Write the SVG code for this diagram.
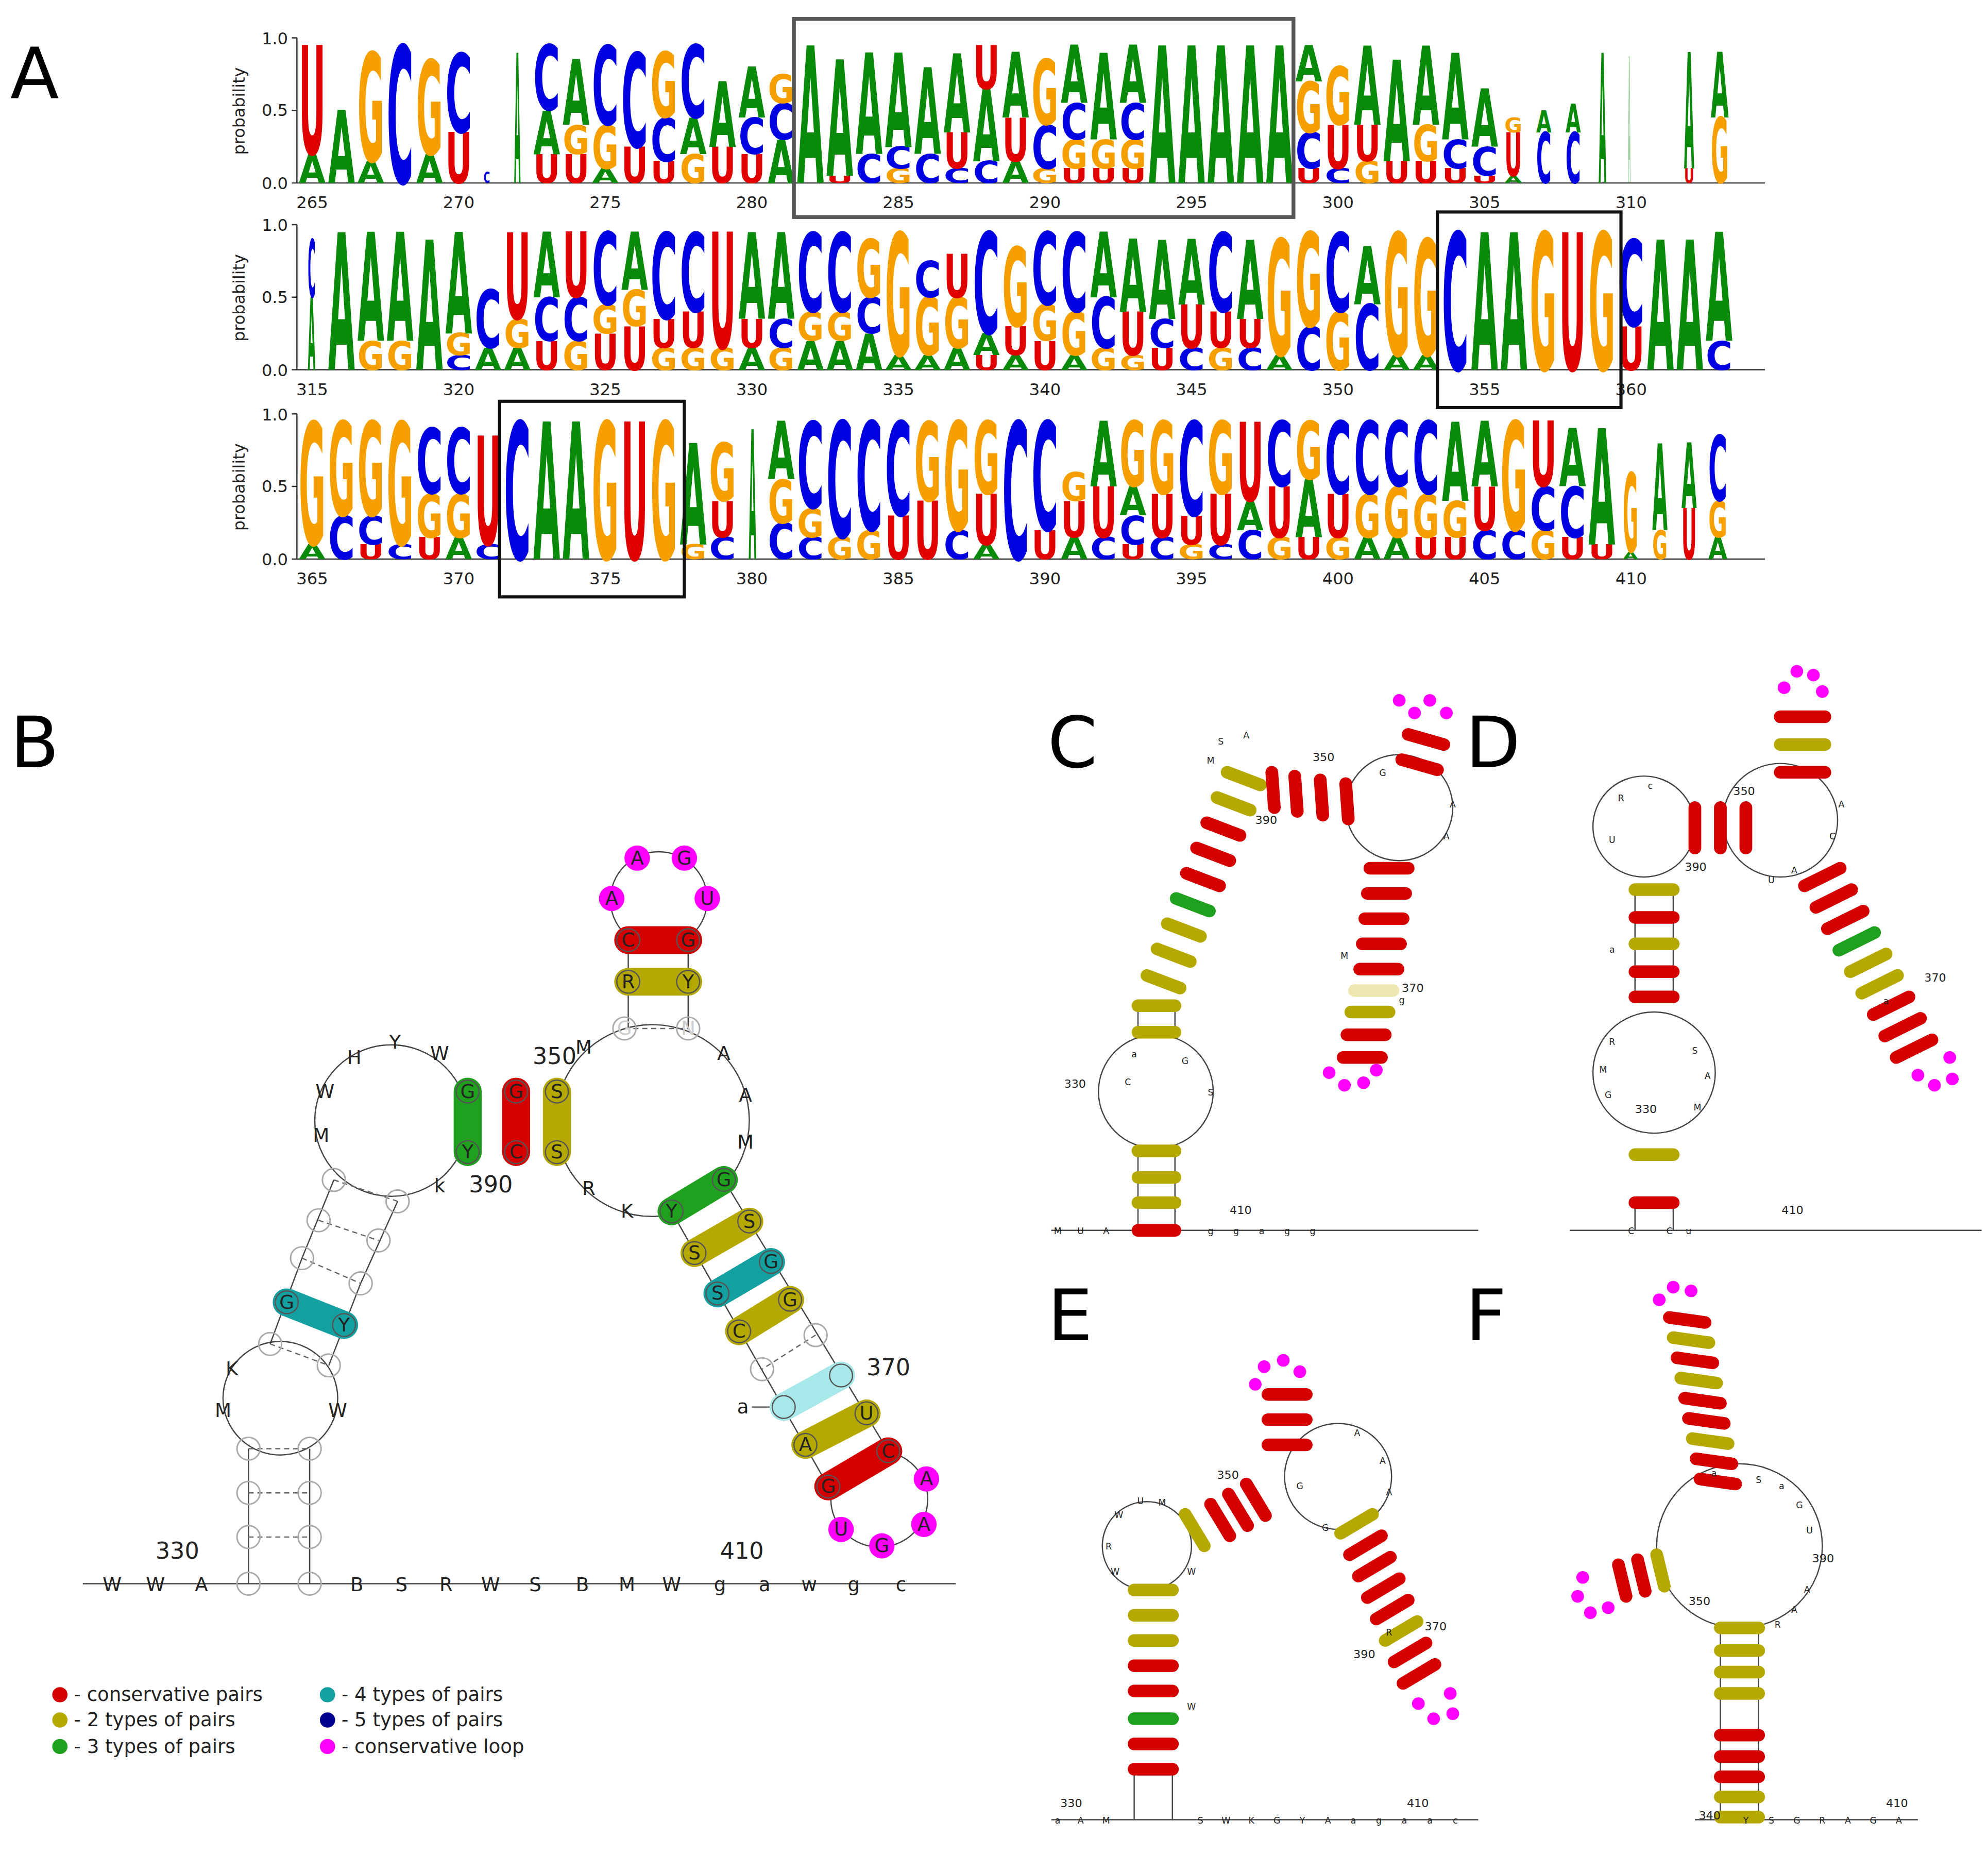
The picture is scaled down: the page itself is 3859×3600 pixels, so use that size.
<svg xmlns="http://www.w3.org/2000/svg" width="3859" height="3600" viewBox="0 0 3859 3600">
<style>
text{font-family:"DejaVu Sans","Liberation Sans",sans-serif}
.L text{font-weight:bold}
.a{fill:#0a8a0a}.c{fill:#0000e0}.g{fill:#f5a000}.u{fill:#e00000}
.ax{font-size:13px;fill:#222}
.pl{font-size:56px}
.bb{stroke:#444;stroke-width:1;fill:none}
.br{stroke-linecap:round;fill:none}
.R{stroke:#d40000}.O{stroke:#b5a800}.G{stroke:#1fa01f}.T{stroke:#14a0a0}.LT{stroke:#a8e8e8}.PY{stroke:#eee8b0}
.bw{stroke-width:22}.sw{stroke-width:10}
.nc{fill:none;stroke:#555;stroke-width:1}
.gc{fill:none;stroke:#aaa;stroke-width:1.2}
.nt{font-size:15px;text-anchor:middle;fill:#222}
.ft{font-size:7px;text-anchor:middle;fill:#222}
.mg{fill:#ff00ff}
.lg{font-size:15px;fill:#222}
.dash{stroke:#666;stroke-width:1;stroke-dasharray:4 3}
</style>
<rect width="3859" height="3600" fill="#fff"/>
<g transform="scale(2.4737,2.449)">
<text class="pl" x="8" y="78">A</text>
<text class="pl" x="8" y="608">B</text>
<text class="pl" x="822" y="608">C</text>
<text class="pl" x="1150" y="608">D</text>
<text class="pl" x="822" y="1062">E</text>
<text class="pl" x="1150" y="1062">F</text>

<!-- logo axes -->
<g id="axes" fill="none" stroke="#333" stroke-width="1">
<path d="M233,30V145H1385M233,30h-4M233,87.5h-4M233,145h-4"/>
<path d="M233,178V293H1385M233,178h-4M233,235.5h-4M233,293h-4"/>
<path d="M233,328V443H1385M233,328h-4M233,385.5h-4M233,443h-4"/>
</g>
<g class="ax" text-anchor="end">
<text x="226" y="35">1.0</text><text x="226" y="92">0.5</text><text x="226" y="150">0.0</text>
<text x="226" y="183">1.0</text><text x="226" y="240">0.5</text><text x="226" y="298">0.0</text>
<text x="226" y="333">1.0</text><text x="226" y="390">0.5</text><text x="226" y="448">0.0</text>
</g>
<g class="ax" text-anchor="middle" font-size="15">
<text transform="translate(192,88) rotate(-90)">probability</text>
<text transform="translate(192,236) rotate(-90)">probability</text>
<text transform="translate(192,386) rotate(-90)">probability</text>
<text x="245" y="165">265</text><text x="360" y="165">270</text><text x="475" y="165">275</text><text x="590" y="165">280</text><text x="705" y="165">285</text><text x="820" y="165">290</text><text x="935" y="165">295</text><text x="1050" y="165">300</text><text x="1165" y="165">305</text><text x="1280" y="165">310</text>
<text x="245" y="313">315</text><text x="360" y="313">320</text><text x="475" y="313">325</text><text x="590" y="313">330</text><text x="705" y="313">335</text><text x="820" y="313">340</text><text x="935" y="313">345</text><text x="1050" y="313">350</text><text x="1165" y="313">355</text><text x="1280" y="313">360</text>
<text x="245" y="463">365</text><text x="360" y="463">370</text><text x="475" y="463">375</text><text x="590" y="463">380</text><text x="705" y="463">385</text><text x="820" y="463">390</text><text x="935" y="463">395</text><text x="1050" y="463">400</text><text x="1165" y="463">405</text><text x="1280" y="463">410</text>
</g>

<!-- logo row 1 -->
<g class="L" transform="translate(233.5,145) scale(1,1.15)" lengthAdjust="spacingAndGlyphs">
<text class="a" x="1" y="0" font-size="27" textLength="21" lengthAdjust="spacingAndGlyphs">A</text><text class="u" x="1" y="-20" font-size="103" textLength="21" lengthAdjust="spacingAndGlyphs">U</text>
<text class="a" x="24" y="0" font-size="69" textLength="21" lengthAdjust="spacingAndGlyphs">A</text>
<text class="a" x="47" y="0" font-size="21" textLength="21" lengthAdjust="spacingAndGlyphs">A</text><text class="g" x="47" y="-15" font-size="103" textLength="21" lengthAdjust="spacingAndGlyphs">G</text>
<text class="c" x="70" y="0" font-size="130" textLength="21" lengthAdjust="spacingAndGlyphs">C</text>
<text class="a" x="93" y="0" font-size="27" textLength="21" lengthAdjust="spacingAndGlyphs">A</text><text class="g" x="93" y="-20" font-size="89" textLength="21" lengthAdjust="spacingAndGlyphs">G</text>
<text class="u" x="116" y="0" font-size="48" textLength="21" lengthAdjust="spacingAndGlyphs">U</text><text class="c" x="116" y="-35" font-size="75" textLength="21" lengthAdjust="spacingAndGlyphs">C</text>
<text class="c" x="146" y="0" font-size="11" textLength="5" lengthAdjust="spacingAndGlyphs">C</text>
<text class="a" x="170" y="0" font-size="123" textLength="5" lengthAdjust="spacingAndGlyphs">A</text>
<text class="u" x="185" y="0" font-size="27" textLength="21" lengthAdjust="spacingAndGlyphs">U</text><text class="a" x="185" y="-20" font-size="41" textLength="21" lengthAdjust="spacingAndGlyphs">A</text><text class="c" x="185" y="-50" font-size="62" textLength="21" lengthAdjust="spacingAndGlyphs">C</text>
<text class="u" x="208" y="0" font-size="27" textLength="21" lengthAdjust="spacingAndGlyphs">U</text><text class="g" x="208" y="-20" font-size="27" textLength="21" lengthAdjust="spacingAndGlyphs">G</text><text class="a" x="208" y="-40" font-size="62" textLength="21" lengthAdjust="spacingAndGlyphs">A</text>
<text class="a" x="231" y="0" font-size="14" textLength="21" lengthAdjust="spacingAndGlyphs">A</text><text class="g" x="231" y="-10" font-size="41" textLength="21" lengthAdjust="spacingAndGlyphs">G</text><text class="c" x="231" y="-40" font-size="75" textLength="21" lengthAdjust="spacingAndGlyphs">C</text>
<text class="u" x="254" y="0" font-size="34" textLength="21" lengthAdjust="spacingAndGlyphs">U</text><text class="c" x="254" y="-25" font-size="89" textLength="21" lengthAdjust="spacingAndGlyphs">C</text>
<text class="u" x="277" y="0" font-size="21" textLength="21" lengthAdjust="spacingAndGlyphs">U</text><text class="c" x="277" y="-15" font-size="41" textLength="21" lengthAdjust="spacingAndGlyphs">C</text><text class="g" x="277" y="-45" font-size="62" textLength="21" lengthAdjust="spacingAndGlyphs">G</text>
<text class="g" x="300" y="0" font-size="27" textLength="21" lengthAdjust="spacingAndGlyphs">G</text><text class="a" x="300" y="-20" font-size="34" textLength="21" lengthAdjust="spacingAndGlyphs">A</text><text class="c" x="300" y="-45" font-size="69" textLength="21" lengthAdjust="spacingAndGlyphs">C</text>
<text class="u" x="323" y="0" font-size="34" textLength="21" lengthAdjust="spacingAndGlyphs">U</text><text class="a" x="323" y="-25" font-size="62" textLength="21" lengthAdjust="spacingAndGlyphs">A</text>
<text class="u" x="346" y="0" font-size="27" textLength="21" lengthAdjust="spacingAndGlyphs">U</text><text class="c" x="346" y="-20" font-size="34" textLength="21" lengthAdjust="spacingAndGlyphs">C</text><text class="a" x="346" y="-45" font-size="48" textLength="21" lengthAdjust="spacingAndGlyphs">A</text>
<text class="a" x="369" y="0" font-size="41" textLength="21" lengthAdjust="spacingAndGlyphs">A</text><text class="c" x="369" y="-30" font-size="34" textLength="21" lengthAdjust="spacingAndGlyphs">C</text><text class="g" x="369" y="-55" font-size="27" textLength="21" lengthAdjust="spacingAndGlyphs">G</text>
<text class="a" x="392" y="0" font-size="130" textLength="21" lengthAdjust="spacingAndGlyphs">A</text>
<text class="u" x="415" y="0" font-size="7" textLength="21" lengthAdjust="spacingAndGlyphs">U</text><text class="a" x="415" y="-5" font-size="110" textLength="21" lengthAdjust="spacingAndGlyphs">A</text>
<text class="c" x="438" y="0" font-size="27" textLength="21" lengthAdjust="spacingAndGlyphs">C</text><text class="a" x="438" y="-20" font-size="96" textLength="21" lengthAdjust="spacingAndGlyphs">A</text>
<text class="g" x="461" y="0" font-size="14" textLength="21" lengthAdjust="spacingAndGlyphs">G</text><text class="c" x="461" y="-10" font-size="21" textLength="21" lengthAdjust="spacingAndGlyphs">C</text><text class="a" x="461" y="-25" font-size="89" textLength="21" lengthAdjust="spacingAndGlyphs">A</text>
<text class="c" x="484" y="0" font-size="27" textLength="21" lengthAdjust="spacingAndGlyphs">C</text><text class="a" x="484" y="-20" font-size="82" textLength="21" lengthAdjust="spacingAndGlyphs">A</text>
<text class="c" x="507" y="0" font-size="14" textLength="21" lengthAdjust="spacingAndGlyphs">C</text><text class="u" x="507" y="-10" font-size="34" textLength="21" lengthAdjust="spacingAndGlyphs">U</text><text class="a" x="507" y="-35" font-size="75" textLength="21" lengthAdjust="spacingAndGlyphs">A</text>
<text class="c" x="530" y="0" font-size="21" textLength="21" lengthAdjust="spacingAndGlyphs">C</text><text class="a" x="530" y="-15" font-size="69" textLength="21" lengthAdjust="spacingAndGlyphs">A</text><text class="u" x="530" y="-65" font-size="41" textLength="21" lengthAdjust="spacingAndGlyphs">U</text>
<text class="a" x="553" y="0" font-size="21" textLength="21" lengthAdjust="spacingAndGlyphs">A</text><text class="u" x="553" y="-15" font-size="41" textLength="21" lengthAdjust="spacingAndGlyphs">U</text><text class="a" x="553" y="-45" font-size="62" textLength="21" lengthAdjust="spacingAndGlyphs">A</text>
<text class="g" x="576" y="0" font-size="14" textLength="21" lengthAdjust="spacingAndGlyphs">G</text><text class="c" x="576" y="-10" font-size="41" textLength="21" lengthAdjust="spacingAndGlyphs">C</text><text class="g" x="576" y="-40" font-size="62" textLength="21" lengthAdjust="spacingAndGlyphs">G</text>
<text class="u" x="599" y="0" font-size="14" textLength="21" lengthAdjust="spacingAndGlyphs">U</text><text class="g" x="599" y="-10" font-size="27" textLength="21" lengthAdjust="spacingAndGlyphs">G</text><text class="c" x="599" y="-30" font-size="34" textLength="21" lengthAdjust="spacingAndGlyphs">C</text><text class="a" x="599" y="-55" font-size="55" textLength="21" lengthAdjust="spacingAndGlyphs">A</text>
<text class="u" x="622" y="0" font-size="14" textLength="21" lengthAdjust="spacingAndGlyphs">U</text><text class="g" x="622" y="-10" font-size="27" textLength="21" lengthAdjust="spacingAndGlyphs">G</text><text class="a" x="622" y="-30" font-size="82" textLength="21" lengthAdjust="spacingAndGlyphs">A</text>
<text class="u" x="645" y="0" font-size="14" textLength="21" lengthAdjust="spacingAndGlyphs">U</text><text class="g" x="645" y="-10" font-size="27" textLength="21" lengthAdjust="spacingAndGlyphs">G</text><text class="c" x="645" y="-30" font-size="34" textLength="21" lengthAdjust="spacingAndGlyphs">C</text><text class="a" x="645" y="-55" font-size="55" textLength="21" lengthAdjust="spacingAndGlyphs">A</text>
<text class="a" x="668" y="0" font-size="130" textLength="21" lengthAdjust="spacingAndGlyphs">A</text>
<text class="a" x="691" y="0" font-size="130" textLength="21" lengthAdjust="spacingAndGlyphs">A</text>
<text class="a" x="714" y="0" font-size="130" textLength="21" lengthAdjust="spacingAndGlyphs">A</text>
<text class="a" x="737" y="0" font-size="130" textLength="21" lengthAdjust="spacingAndGlyphs">A</text>
<text class="a" x="760" y="0" font-size="130" textLength="21" lengthAdjust="spacingAndGlyphs">A</text>
<text class="u" x="783" y="0" font-size="14" textLength="21" lengthAdjust="spacingAndGlyphs">U</text><text class="c" x="783" y="-10" font-size="34" textLength="21" lengthAdjust="spacingAndGlyphs">C</text><text class="g" x="783" y="-35" font-size="48" textLength="21" lengthAdjust="spacingAndGlyphs">G</text><text class="a" x="783" y="-70" font-size="34" textLength="21" lengthAdjust="spacingAndGlyphs">A</text>
<text class="c" x="806" y="0" font-size="14" textLength="21" lengthAdjust="spacingAndGlyphs">C</text><text class="u" x="806" y="-10" font-size="41" textLength="21" lengthAdjust="spacingAndGlyphs">U</text><text class="g" x="806" y="-40" font-size="55" textLength="21" lengthAdjust="spacingAndGlyphs">G</text>
<text class="g" x="829" y="0" font-size="21" textLength="21" lengthAdjust="spacingAndGlyphs">G</text><text class="u" x="829" y="-15" font-size="34" textLength="21" lengthAdjust="spacingAndGlyphs">U</text><text class="a" x="829" y="-40" font-size="75" textLength="21" lengthAdjust="spacingAndGlyphs">A</text>
<text class="u" x="852" y="0" font-size="21" textLength="21" lengthAdjust="spacingAndGlyphs">U</text><text class="a" x="852" y="-15" font-size="96" textLength="21" lengthAdjust="spacingAndGlyphs">A</text>
<text class="u" x="875" y="0" font-size="21" textLength="21" lengthAdjust="spacingAndGlyphs">U</text><text class="g" x="875" y="-15" font-size="34" textLength="21" lengthAdjust="spacingAndGlyphs">G</text><text class="a" x="875" y="-40" font-size="75" textLength="21" lengthAdjust="spacingAndGlyphs">A</text>
<text class="u" x="898" y="0" font-size="14" textLength="21" lengthAdjust="spacingAndGlyphs">U</text><text class="c" x="898" y="-10" font-size="27" textLength="21" lengthAdjust="spacingAndGlyphs">C</text><text class="a" x="898" y="-30" font-size="82" textLength="21" lengthAdjust="spacingAndGlyphs">A</text>
<text class="u" x="921" y="0" font-size="7" textLength="21" lengthAdjust="spacingAndGlyphs">U</text><text class="c" x="921" y="-5" font-size="27" textLength="21" lengthAdjust="spacingAndGlyphs">C</text><text class="a" x="921" y="-25" font-size="55" textLength="21" lengthAdjust="spacingAndGlyphs">A</text>
<text class="a" x="947" y="0" font-size="7" textLength="14" lengthAdjust="spacingAndGlyphs">A</text><text class="u" x="947" y="-5" font-size="41" textLength="14" lengthAdjust="spacingAndGlyphs">U</text><text class="g" x="947" y="-35" font-size="14" textLength="14" lengthAdjust="spacingAndGlyphs">G</text>
<text class="c" x="972" y="0" font-size="48" textLength="12" lengthAdjust="spacingAndGlyphs">C</text><text class="a" x="972" y="-35" font-size="21" textLength="12" lengthAdjust="spacingAndGlyphs">A</text>
<text class="c" x="995" y="0" font-size="48" textLength="12" lengthAdjust="spacingAndGlyphs">C</text><text class="a" x="995" y="-35" font-size="27" textLength="12" lengthAdjust="spacingAndGlyphs">A</text>
<text class="a" x="1021" y="0" font-size="123" textLength="6" lengthAdjust="spacingAndGlyphs">A</text>
<text class="a" x="1044" y="0" font-size="120" textLength="2" lengthAdjust="spacingAndGlyphs" opacity=".4">A</text>
<text class="u" x="1088" y="0" font-size="14" textLength="8" lengthAdjust="spacingAndGlyphs">U</text><text class="a" x="1088" y="-10" font-size="110" textLength="8" lengthAdjust="spacingAndGlyphs">A</text>
<text class="g" x="1109" y="0" font-size="62" textLength="14" lengthAdjust="spacingAndGlyphs">G</text><text class="a" x="1109" y="-45" font-size="62" textLength="14" lengthAdjust="spacingAndGlyphs">A</text>
</g>

<!-- logo row 2 -->
<g class="L" transform="translate(233.5,293) scale(1,1.15)">
<text class="a" x="8" y="0" font-size="69" textLength="6" lengthAdjust="spacingAndGlyphs">A</text><text class="c" x="8" y="-50" font-size="55" textLength="6" lengthAdjust="spacingAndGlyphs">C</text>
<text class="a" x="24" y="0" font-size="130" textLength="21" lengthAdjust="spacingAndGlyphs">A</text>
<text class="g" x="47" y="0" font-size="27" textLength="21" lengthAdjust="spacingAndGlyphs">G</text><text class="a" x="47" y="-20" font-size="103" textLength="21" lengthAdjust="spacingAndGlyphs">A</text>
<text class="g" x="70" y="0" font-size="27" textLength="21" lengthAdjust="spacingAndGlyphs">G</text><text class="a" x="70" y="-20" font-size="103" textLength="21" lengthAdjust="spacingAndGlyphs">A</text>
<text class="a" x="93" y="0" font-size="123" textLength="21" lengthAdjust="spacingAndGlyphs">A</text>
<text class="c" x="116" y="0" font-size="14" textLength="21" lengthAdjust="spacingAndGlyphs">C</text><text class="g" x="116" y="-10" font-size="21" textLength="21" lengthAdjust="spacingAndGlyphs">G</text><text class="a" x="116" y="-25" font-size="96" textLength="21" lengthAdjust="spacingAndGlyphs">A</text>
<text class="a" x="139" y="0" font-size="21" textLength="21" lengthAdjust="spacingAndGlyphs">A</text><text class="c" x="139" y="-15" font-size="55" textLength="21" lengthAdjust="spacingAndGlyphs">C</text>
<text class="a" x="162" y="0" font-size="21" textLength="21" lengthAdjust="spacingAndGlyphs">A</text><text class="g" x="162" y="-15" font-size="27" textLength="21" lengthAdjust="spacingAndGlyphs">G</text><text class="u" x="162" y="-35" font-size="82" textLength="21" lengthAdjust="spacingAndGlyphs">U</text>
<text class="u" x="185" y="0" font-size="27" textLength="21" lengthAdjust="spacingAndGlyphs">U</text><text class="c" x="185" y="-20" font-size="41" textLength="21" lengthAdjust="spacingAndGlyphs">C</text><text class="a" x="185" y="-50" font-size="62" textLength="21" lengthAdjust="spacingAndGlyphs">A</text>
<text class="g" x="208" y="0" font-size="27" textLength="21" lengthAdjust="spacingAndGlyphs">G</text><text class="c" x="208" y="-20" font-size="41" textLength="21" lengthAdjust="spacingAndGlyphs">C</text><text class="u" x="208" y="-50" font-size="62" textLength="21" lengthAdjust="spacingAndGlyphs">U</text>
<text class="u" x="231" y="0" font-size="34" textLength="21" lengthAdjust="spacingAndGlyphs">U</text><text class="g" x="231" y="-25" font-size="27" textLength="21" lengthAdjust="spacingAndGlyphs">G</text><text class="c" x="231" y="-45" font-size="69" textLength="21" lengthAdjust="spacingAndGlyphs">C</text>
<text class="u" x="254" y="0" font-size="41" textLength="21" lengthAdjust="spacingAndGlyphs">U</text><text class="g" x="254" y="-30" font-size="34" textLength="21" lengthAdjust="spacingAndGlyphs">G</text><text class="a" x="254" y="-55" font-size="55" textLength="21" lengthAdjust="spacingAndGlyphs">A</text>
<text class="g" x="277" y="0" font-size="21" textLength="21" lengthAdjust="spacingAndGlyphs">G</text><text class="u" x="277" y="-15" font-size="27" textLength="21" lengthAdjust="spacingAndGlyphs">U</text><text class="c" x="277" y="-35" font-size="82" textLength="21" lengthAdjust="spacingAndGlyphs">C</text>
<text class="g" x="300" y="0" font-size="21" textLength="21" lengthAdjust="spacingAndGlyphs">G</text><text class="u" x="300" y="-15" font-size="34" textLength="21" lengthAdjust="spacingAndGlyphs">U</text><text class="c" x="300" y="-40" font-size="75" textLength="21" lengthAdjust="spacingAndGlyphs">C</text>
<text class="g" x="323" y="0" font-size="21" textLength="21" lengthAdjust="spacingAndGlyphs">G</text><text class="u" x="323" y="-15" font-size="110" textLength="21" lengthAdjust="spacingAndGlyphs">U</text>
<text class="a" x="346" y="0" font-size="21" textLength="21" lengthAdjust="spacingAndGlyphs">A</text><text class="u" x="346" y="-15" font-size="27" textLength="21" lengthAdjust="spacingAndGlyphs">U</text><text class="a" x="346" y="-35" font-size="82" textLength="21" lengthAdjust="spacingAndGlyphs">A</text>
<text class="g" x="369" y="0" font-size="21" textLength="21" lengthAdjust="spacingAndGlyphs">G</text><text class="c" x="369" y="-15" font-size="27" textLength="21" lengthAdjust="spacingAndGlyphs">C</text><text class="a" x="369" y="-35" font-size="82" textLength="21" lengthAdjust="spacingAndGlyphs">A</text>
<text class="a" x="392" y="0" font-size="27" textLength="21" lengthAdjust="spacingAndGlyphs">A</text><text class="g" x="392" y="-20" font-size="27" textLength="21" lengthAdjust="spacingAndGlyphs">G</text><text class="c" x="392" y="-40" font-size="75" textLength="21" lengthAdjust="spacingAndGlyphs">C</text>
<text class="a" x="415" y="0" font-size="27" textLength="21" lengthAdjust="spacingAndGlyphs">A</text><text class="g" x="415" y="-20" font-size="27" textLength="21" lengthAdjust="spacingAndGlyphs">G</text><text class="c" x="415" y="-40" font-size="75" textLength="21" lengthAdjust="spacingAndGlyphs">C</text>
<text class="a" x="438" y="0" font-size="34" textLength="21" lengthAdjust="spacingAndGlyphs">A</text><text class="c" x="438" y="-25" font-size="34" textLength="21" lengthAdjust="spacingAndGlyphs">C</text><text class="g" x="438" y="-50" font-size="55" textLength="21" lengthAdjust="spacingAndGlyphs">G</text>
<text class="a" x="461" y="0" font-size="14" textLength="21" lengthAdjust="spacingAndGlyphs">A</text><text class="g" x="461" y="-10" font-size="116" textLength="21" lengthAdjust="spacingAndGlyphs">G</text>
<text class="a" x="484" y="0" font-size="14" textLength="21" lengthAdjust="spacingAndGlyphs">A</text><text class="g" x="484" y="-10" font-size="55" textLength="21" lengthAdjust="spacingAndGlyphs">G</text><text class="c" x="484" y="-50" font-size="34" textLength="21" lengthAdjust="spacingAndGlyphs">C</text>
<text class="a" x="507" y="0" font-size="21" textLength="21" lengthAdjust="spacingAndGlyphs">A</text><text class="g" x="507" y="-15" font-size="48" textLength="21" lengthAdjust="spacingAndGlyphs">G</text><text class="u" x="507" y="-50" font-size="41" textLength="21" lengthAdjust="spacingAndGlyphs">U</text>
<text class="u" x="530" y="0" font-size="14" textLength="21" lengthAdjust="spacingAndGlyphs">U</text><text class="a" x="530" y="-10" font-size="21" textLength="21" lengthAdjust="spacingAndGlyphs">A</text><text class="c" x="530" y="-25" font-size="96" textLength="21" lengthAdjust="spacingAndGlyphs">C</text>
<text class="a" x="553" y="0" font-size="14" textLength="21" lengthAdjust="spacingAndGlyphs">A</text><text class="u" x="553" y="-10" font-size="27" textLength="21" lengthAdjust="spacingAndGlyphs">U</text><text class="g" x="553" y="-30" font-size="75" textLength="21" lengthAdjust="spacingAndGlyphs">G</text>
<text class="u" x="576" y="0" font-size="27" textLength="21" lengthAdjust="spacingAndGlyphs">U</text><text class="g" x="576" y="-20" font-size="34" textLength="21" lengthAdjust="spacingAndGlyphs">G</text><text class="c" x="576" y="-45" font-size="69" textLength="21" lengthAdjust="spacingAndGlyphs">C</text>
<text class="a" x="599" y="0" font-size="14" textLength="21" lengthAdjust="spacingAndGlyphs">A</text><text class="g" x="599" y="-10" font-size="41" textLength="21" lengthAdjust="spacingAndGlyphs">G</text><text class="c" x="599" y="-40" font-size="75" textLength="21" lengthAdjust="spacingAndGlyphs">C</text>
<text class="g" x="622" y="0" font-size="21" textLength="21" lengthAdjust="spacingAndGlyphs">G</text><text class="c" x="622" y="-15" font-size="48" textLength="21" lengthAdjust="spacingAndGlyphs">C</text><text class="a" x="622" y="-50" font-size="62" textLength="21" lengthAdjust="spacingAndGlyphs">A</text>
<text class="g" x="645" y="0" font-size="14" textLength="21" lengthAdjust="spacingAndGlyphs">G</text><text class="u" x="645" y="-10" font-size="41" textLength="21" lengthAdjust="spacingAndGlyphs">U</text><text class="a" x="645" y="-40" font-size="69" textLength="21" lengthAdjust="spacingAndGlyphs">A</text>
<text class="u" x="668" y="0" font-size="21" textLength="21" lengthAdjust="spacingAndGlyphs">U</text><text class="c" x="668" y="-15" font-size="27" textLength="21" lengthAdjust="spacingAndGlyphs">C</text><text class="a" x="668" y="-35" font-size="75" textLength="21" lengthAdjust="spacingAndGlyphs">A</text>
<text class="c" x="691" y="0" font-size="21" textLength="21" lengthAdjust="spacingAndGlyphs">C</text><text class="u" x="691" y="-15" font-size="41" textLength="21" lengthAdjust="spacingAndGlyphs">U</text><text class="a" x="691" y="-45" font-size="62" textLength="21" lengthAdjust="spacingAndGlyphs">A</text>
<text class="g" x="714" y="0" font-size="21" textLength="21" lengthAdjust="spacingAndGlyphs">G</text><text class="u" x="714" y="-15" font-size="34" textLength="21" lengthAdjust="spacingAndGlyphs">U</text><text class="c" x="714" y="-40" font-size="75" textLength="21" lengthAdjust="spacingAndGlyphs">C</text>
<text class="c" x="737" y="0" font-size="21" textLength="21" lengthAdjust="spacingAndGlyphs">C</text><text class="u" x="737" y="-15" font-size="27" textLength="21" lengthAdjust="spacingAndGlyphs">U</text><text class="a" x="737" y="-35" font-size="75" textLength="21" lengthAdjust="spacingAndGlyphs">A</text>
<text class="a" x="760" y="0" font-size="14" textLength="21" lengthAdjust="spacingAndGlyphs">A</text><text class="g" x="760" y="-10" font-size="110" textLength="21" lengthAdjust="spacingAndGlyphs">G</text>
<text class="c" x="783" y="0" font-size="41" textLength="21" lengthAdjust="spacingAndGlyphs">C</text><text class="g" x="783" y="-30" font-size="89" textLength="21" lengthAdjust="spacingAndGlyphs">G</text>
<text class="g" x="806" y="0" font-size="55" textLength="21" lengthAdjust="spacingAndGlyphs">G</text><text class="c" x="806" y="-40" font-size="75" textLength="21" lengthAdjust="spacingAndGlyphs">C</text>
<text class="c" x="829" y="0" font-size="62" textLength="21" lengthAdjust="spacingAndGlyphs">C</text><text class="a" x="829" y="-45" font-size="55" textLength="21" lengthAdjust="spacingAndGlyphs">A</text>
<text class="a" x="852" y="0" font-size="14" textLength="21" lengthAdjust="spacingAndGlyphs">A</text><text class="g" x="852" y="-10" font-size="116" textLength="21" lengthAdjust="spacingAndGlyphs">G</text>
<text class="a" x="875" y="0" font-size="14" textLength="21" lengthAdjust="spacingAndGlyphs">A</text><text class="g" x="875" y="-10" font-size="110" textLength="21" lengthAdjust="spacingAndGlyphs">G</text>
<text class="c" x="898" y="0" font-size="130" textLength="21" lengthAdjust="spacingAndGlyphs">C</text>
<text class="a" x="921" y="0" font-size="130" textLength="21" lengthAdjust="spacingAndGlyphs">A</text>
<text class="a" x="944" y="0" font-size="130" textLength="21" lengthAdjust="spacingAndGlyphs">A</text>
<text class="g" x="967" y="0" font-size="130" textLength="21" lengthAdjust="spacingAndGlyphs">G</text>
<text class="u" x="990" y="0" font-size="130" textLength="21" lengthAdjust="spacingAndGlyphs">U</text>
<text class="g" x="1013" y="0" font-size="130" textLength="21" lengthAdjust="spacingAndGlyphs">G</text>
<text class="u" x="1036" y="0" font-size="41" textLength="21" lengthAdjust="spacingAndGlyphs">U</text><text class="c" x="1036" y="-30" font-size="82" textLength="21" lengthAdjust="spacingAndGlyphs">C</text>
<text class="a" x="1059" y="0" font-size="123" textLength="21" lengthAdjust="spacingAndGlyphs">A</text>
<text class="a" x="1082" y="0" font-size="123" textLength="21" lengthAdjust="spacingAndGlyphs">A</text>
<text class="c" x="1105" y="0" font-size="27" textLength="21" lengthAdjust="spacingAndGlyphs">C</text><text class="a" x="1105" y="-20" font-size="103" textLength="21" lengthAdjust="spacingAndGlyphs">A</text>
</g>

<!-- logo row 3 -->
<g class="L" transform="translate(233.5,443) scale(1,1.15)">
<text class="a" x="1" y="0" font-size="14" textLength="21" lengthAdjust="spacingAndGlyphs">A</text><text class="g" x="1" y="-10" font-size="116" textLength="21" lengthAdjust="spacingAndGlyphs">G</text>
<text class="c" x="24" y="0" font-size="41" textLength="21" lengthAdjust="spacingAndGlyphs">C</text><text class="g" x="24" y="-30" font-size="89" textLength="21" lengthAdjust="spacingAndGlyphs">G</text>
<text class="u" x="47" y="0" font-size="14" textLength="21" lengthAdjust="spacingAndGlyphs">U</text><text class="c" x="47" y="-10" font-size="27" textLength="21" lengthAdjust="spacingAndGlyphs">C</text><text class="g" x="47" y="-30" font-size="89" textLength="21" lengthAdjust="spacingAndGlyphs">G</text>
<text class="c" x="70" y="0" font-size="14" textLength="21" lengthAdjust="spacingAndGlyphs">C</text><text class="g" x="70" y="-10" font-size="116" textLength="21" lengthAdjust="spacingAndGlyphs">G</text>
<text class="u" x="93" y="0" font-size="21" textLength="21" lengthAdjust="spacingAndGlyphs">U</text><text class="g" x="93" y="-15" font-size="41" textLength="21" lengthAdjust="spacingAndGlyphs">G</text><text class="c" x="93" y="-45" font-size="62" textLength="21" lengthAdjust="spacingAndGlyphs">C</text>
<text class="a" x="116" y="0" font-size="21" textLength="21" lengthAdjust="spacingAndGlyphs">A</text><text class="g" x="116" y="-15" font-size="41" textLength="21" lengthAdjust="spacingAndGlyphs">G</text><text class="c" x="116" y="-45" font-size="62" textLength="21" lengthAdjust="spacingAndGlyphs">C</text>
<text class="c" x="139" y="0" font-size="14" textLength="21" lengthAdjust="spacingAndGlyphs">C</text><text class="u" x="139" y="-10" font-size="103" textLength="21" lengthAdjust="spacingAndGlyphs">U</text>
<text class="c" x="162" y="0" font-size="130" textLength="21" lengthAdjust="spacingAndGlyphs">C</text>
<text class="a" x="185" y="0" font-size="130" textLength="21" lengthAdjust="spacingAndGlyphs">A</text>
<text class="a" x="208" y="0" font-size="130" textLength="21" lengthAdjust="spacingAndGlyphs">A</text>
<text class="g" x="231" y="0" font-size="130" textLength="21" lengthAdjust="spacingAndGlyphs">G</text>
<text class="u" x="254" y="0" font-size="130" textLength="21" lengthAdjust="spacingAndGlyphs">U</text>
<text class="g" x="277" y="0" font-size="130" textLength="21" lengthAdjust="spacingAndGlyphs">G</text>
<text class="g" x="300" y="0" font-size="14" textLength="21" lengthAdjust="spacingAndGlyphs">G</text><text class="a" x="300" y="-10" font-size="96" textLength="21" lengthAdjust="spacingAndGlyphs">A</text>
<text class="c" x="323" y="0" font-size="21" textLength="21" lengthAdjust="spacingAndGlyphs">C</text><text class="u" x="323" y="-15" font-size="34" textLength="21" lengthAdjust="spacingAndGlyphs">U</text><text class="g" x="323" y="-40" font-size="55" textLength="21" lengthAdjust="spacingAndGlyphs">G</text>
<text class="a" x="354" y="0" font-size="123" textLength="6" lengthAdjust="spacingAndGlyphs">A</text>
<text class="c" x="369" y="0" font-size="34" textLength="21" lengthAdjust="spacingAndGlyphs">C</text><text class="g" x="369" y="-25" font-size="41" textLength="21" lengthAdjust="spacingAndGlyphs">G</text><text class="a" x="369" y="-55" font-size="55" textLength="21" lengthAdjust="spacingAndGlyphs">A</text>
<text class="c" x="392" y="0" font-size="21" textLength="21" lengthAdjust="spacingAndGlyphs">C</text><text class="g" x="392" y="-15" font-size="27" textLength="21" lengthAdjust="spacingAndGlyphs">G</text><text class="c" x="392" y="-35" font-size="82" textLength="21" lengthAdjust="spacingAndGlyphs">C</text>
<text class="g" x="415" y="0" font-size="21" textLength="21" lengthAdjust="spacingAndGlyphs">G</text><text class="c" x="415" y="-15" font-size="110" textLength="21" lengthAdjust="spacingAndGlyphs">C</text>
<text class="g" x="438" y="0" font-size="27" textLength="21" lengthAdjust="spacingAndGlyphs">G</text><text class="c" x="438" y="-20" font-size="103" textLength="21" lengthAdjust="spacingAndGlyphs">C</text>
<text class="u" x="461" y="0" font-size="41" textLength="21" lengthAdjust="spacingAndGlyphs">U</text><text class="c" x="461" y="-30" font-size="89" textLength="21" lengthAdjust="spacingAndGlyphs">C</text>
<text class="u" x="484" y="0" font-size="55" textLength="21" lengthAdjust="spacingAndGlyphs">U</text><text class="g" x="484" y="-40" font-size="75" textLength="21" lengthAdjust="spacingAndGlyphs">G</text>
<text class="c" x="507" y="0" font-size="27" textLength="21" lengthAdjust="spacingAndGlyphs">C</text><text class="g" x="507" y="-20" font-size="103" textLength="21" lengthAdjust="spacingAndGlyphs">G</text>
<text class="a" x="530" y="0" font-size="14" textLength="21" lengthAdjust="spacingAndGlyphs">A</text><text class="u" x="530" y="-10" font-size="48" textLength="21" lengthAdjust="spacingAndGlyphs">U</text><text class="g" x="530" y="-45" font-size="69" textLength="21" lengthAdjust="spacingAndGlyphs">G</text>
<text class="c" x="553" y="0" font-size="130" textLength="21" lengthAdjust="spacingAndGlyphs">C</text>
<text class="u" x="576" y="0" font-size="27" textLength="21" lengthAdjust="spacingAndGlyphs">U</text><text class="c" x="576" y="-20" font-size="103" textLength="21" lengthAdjust="spacingAndGlyphs">C</text>
<text class="a" x="599" y="0" font-size="21" textLength="21" lengthAdjust="spacingAndGlyphs">A</text><text class="u" x="599" y="-15" font-size="34" textLength="21" lengthAdjust="spacingAndGlyphs">U</text><text class="g" x="599" y="-40" font-size="27" textLength="21" lengthAdjust="spacingAndGlyphs">G</text>
<text class="c" x="622" y="0" font-size="21" textLength="21" lengthAdjust="spacingAndGlyphs">C</text><text class="u" x="622" y="-15" font-size="48" textLength="21" lengthAdjust="spacingAndGlyphs">U</text><text class="a" x="622" y="-50" font-size="62" textLength="21" lengthAdjust="spacingAndGlyphs">A</text>
<text class="u" x="645" y="0" font-size="14" textLength="21" lengthAdjust="spacingAndGlyphs">U</text><text class="c" x="645" y="-10" font-size="27" textLength="21" lengthAdjust="spacingAndGlyphs">C</text><text class="a" x="645" y="-30" font-size="27" textLength="21" lengthAdjust="spacingAndGlyphs">A</text><text class="g" x="645" y="-50" font-size="62" textLength="21" lengthAdjust="spacingAndGlyphs">G</text>
<text class="c" x="668" y="0" font-size="21" textLength="21" lengthAdjust="spacingAndGlyphs">C</text><text class="u" x="668" y="-15" font-size="41" textLength="21" lengthAdjust="spacingAndGlyphs">U</text><text class="g" x="668" y="-45" font-size="69" textLength="21" lengthAdjust="spacingAndGlyphs">G</text>
<text class="g" x="691" y="0" font-size="14" textLength="21" lengthAdjust="spacingAndGlyphs">G</text><text class="u" x="691" y="-10" font-size="27" textLength="21" lengthAdjust="spacingAndGlyphs">U</text><text class="c" x="691" y="-30" font-size="89" textLength="21" lengthAdjust="spacingAndGlyphs">C</text>
<text class="c" x="714" y="0" font-size="14" textLength="21" lengthAdjust="spacingAndGlyphs">C</text><text class="u" x="714" y="-10" font-size="48" textLength="21" lengthAdjust="spacingAndGlyphs">U</text><text class="g" x="714" y="-45" font-size="69" textLength="21" lengthAdjust="spacingAndGlyphs">G</text>
<text class="c" x="737" y="0" font-size="27" textLength="21" lengthAdjust="spacingAndGlyphs">C</text><text class="a" x="737" y="-20" font-size="27" textLength="21" lengthAdjust="spacingAndGlyphs">A</text><text class="u" x="737" y="-40" font-size="75" textLength="21" lengthAdjust="spacingAndGlyphs">U</text>
<text class="g" x="760" y="0" font-size="21" textLength="21" lengthAdjust="spacingAndGlyphs">G</text><text class="u" x="760" y="-15" font-size="48" textLength="21" lengthAdjust="spacingAndGlyphs">U</text><text class="c" x="760" y="-50" font-size="62" textLength="21" lengthAdjust="spacingAndGlyphs">C</text>
<text class="u" x="783" y="0" font-size="21" textLength="21" lengthAdjust="spacingAndGlyphs">U</text><text class="a" x="783" y="-15" font-size="55" textLength="21" lengthAdjust="spacingAndGlyphs">A</text><text class="g" x="783" y="-55" font-size="55" textLength="21" lengthAdjust="spacingAndGlyphs">G</text>
<text class="g" x="806" y="0" font-size="21" textLength="21" lengthAdjust="spacingAndGlyphs">G</text><text class="u" x="806" y="-15" font-size="41" textLength="21" lengthAdjust="spacingAndGlyphs">U</text><text class="c" x="806" y="-45" font-size="69" textLength="21" lengthAdjust="spacingAndGlyphs">C</text>
<text class="a" x="829" y="0" font-size="21" textLength="21" lengthAdjust="spacingAndGlyphs">A</text><text class="g" x="829" y="-15" font-size="41" textLength="21" lengthAdjust="spacingAndGlyphs">G</text><text class="c" x="829" y="-45" font-size="69" textLength="21" lengthAdjust="spacingAndGlyphs">C</text>
<text class="a" x="852" y="0" font-size="21" textLength="21" lengthAdjust="spacingAndGlyphs">A</text><text class="g" x="852" y="-15" font-size="48" textLength="21" lengthAdjust="spacingAndGlyphs">G</text><text class="c" x="852" y="-50" font-size="62" textLength="21" lengthAdjust="spacingAndGlyphs">C</text>
<text class="u" x="875" y="0" font-size="21" textLength="21" lengthAdjust="spacingAndGlyphs">U</text><text class="g" x="875" y="-15" font-size="41" textLength="21" lengthAdjust="spacingAndGlyphs">G</text><text class="c" x="875" y="-45" font-size="69" textLength="21" lengthAdjust="spacingAndGlyphs">C</text>
<text class="u" x="898" y="0" font-size="21" textLength="21" lengthAdjust="spacingAndGlyphs">U</text><text class="g" x="898" y="-15" font-size="34" textLength="21" lengthAdjust="spacingAndGlyphs">G</text><text class="a" x="898" y="-40" font-size="75" textLength="21" lengthAdjust="spacingAndGlyphs">A</text>
<text class="c" x="921" y="0" font-size="27" textLength="21" lengthAdjust="spacingAndGlyphs">C</text><text class="u" x="921" y="-20" font-size="41" textLength="21" lengthAdjust="spacingAndGlyphs">U</text><text class="a" x="921" y="-50" font-size="62" textLength="21" lengthAdjust="spacingAndGlyphs">A</text>
<text class="c" x="944" y="0" font-size="27" textLength="21" lengthAdjust="spacingAndGlyphs">C</text><text class="g" x="944" y="-20" font-size="103" textLength="21" lengthAdjust="spacingAndGlyphs">G</text>
<text class="g" x="967" y="0" font-size="27" textLength="21" lengthAdjust="spacingAndGlyphs">G</text><text class="c" x="967" y="-20" font-size="41" textLength="21" lengthAdjust="spacingAndGlyphs">C</text><text class="u" x="967" y="-50" font-size="62" textLength="21" lengthAdjust="spacingAndGlyphs">U</text>
<text class="u" x="990" y="0" font-size="21" textLength="21" lengthAdjust="spacingAndGlyphs">U</text><text class="c" x="990" y="-15" font-size="48" textLength="21" lengthAdjust="spacingAndGlyphs">C</text><text class="a" x="990" y="-50" font-size="55" textLength="21" lengthAdjust="spacingAndGlyphs">A</text>
<text class="u" x="1013" y="0" font-size="14" textLength="21" lengthAdjust="spacingAndGlyphs">U</text><text class="a" x="1013" y="-10" font-size="110" textLength="21" lengthAdjust="spacingAndGlyphs">A</text>
<text class="a" x="1040" y="0" font-size="7" textLength="12" lengthAdjust="spacingAndGlyphs">A</text><text class="g" x="1040" y="-5" font-size="75" textLength="12" lengthAdjust="spacingAndGlyphs">G</text>
<text class="g" x="1063" y="0" font-size="27" textLength="12" lengthAdjust="spacingAndGlyphs">G</text><text class="a" x="1063" y="-20" font-size="82" textLength="12" lengthAdjust="spacingAndGlyphs">A</text>
<text class="u" x="1086" y="0" font-size="48" textLength="12" lengthAdjust="spacingAndGlyphs">U</text><text class="a" x="1086" y="-35" font-size="62" textLength="12" lengthAdjust="spacingAndGlyphs">A</text>
<text class="a" x="1107" y="0" font-size="21" textLength="15" lengthAdjust="spacingAndGlyphs">A</text><text class="g" x="1107" y="-15" font-size="34" textLength="15" lengthAdjust="spacingAndGlyphs">G</text><text class="c" x="1107" y="-40" font-size="62" textLength="15" lengthAdjust="spacingAndGlyphs">C</text>
</g>

<!-- highlight boxes -->
<rect x="623" y="15" width="392" height="157" fill="none" stroke="#555" stroke-width="3"/>
<rect x="1128" y="168" width="144" height="155" fill="none" stroke="#111" stroke-width="2.5"/>
<rect x="392" y="318" width="145" height="155" fill="none" stroke="#111" stroke-width="2.5"/>

<!-- ===== Panel B ===== -->
<g id="B-loops" class="bb">
<circle cx="220" cy="1108" r="45"/>
<circle cx="307" cy="888" r="60"/>
<circle cx="512" cy="888" r="76"/>
<circle cx="517" cy="713" r="38"/>
<circle cx="690" cy="1188" r="38"/>
<path d="M65,1255H750M195,1148V1255M243,1148V1255M262,935L237,997L212,1065M312,952L283,1017L258,1082M568,935L697,1150M527,960L650,1178M493,745V815M540,745V815M610,1115H590"/>
</g>
<g id="connectors">
<path class="dash" d="M195,1148H243M195,1183H243M195,1218H243M262,935L312,952M250,967L297,983M237,997L283,1017M212,1065L258,1082M490,815H540M640,1058L598,1085"/>
</g>
<g id="B-bars" class="br bw">
<line class="R" x1="493" y1="745" x2="540" y2="745"/>
<line class="O" x1="493" y1="778" x2="540" y2="778"/>
<line class="G" x1="367" y1="865" x2="367" y2="913"/>
<line class="R" x1="405" y1="865" x2="405" y2="913"/>
<line class="O" x1="437" y1="865" x2="437" y2="913"/>
<line class="G" x1="568" y1="935" x2="527" y2="960"/>
<line class="O" x1="588" y1="968" x2="545" y2="993"/>
<line class="T" x1="605" y1="1000" x2="563" y2="1025"/>
<line class="O" x1="620" y1="1030" x2="580" y2="1055"/>
<line class="LT" x1="660" y1="1090" x2="615" y2="1115"/>
<line class="O" x1="680" y1="1120" x2="632" y2="1145"/>
<line class="R" x1="697" y1="1150" x2="650" y2="1178"/>
<line class="T" x1="225" y1="1032" x2="270" y2="1050"/>
</g>
<g id="B-nodes">
<g class="nc"><circle cx="493" cy="745" r="9"/><circle cx="540" cy="745" r="9"/><circle cx="493" cy="778" r="9"/><circle cx="540" cy="778" r="9"/><circle cx="367" cy="865" r="9"/><circle cx="367" cy="913" r="9"/><circle cx="405" cy="865" r="9"/><circle cx="405" cy="913" r="9"/><circle cx="437" cy="865" r="9"/><circle cx="437" cy="913" r="9"/><circle cx="568" cy="935" r="9"/><circle cx="527" cy="960" r="9"/><circle cx="588" cy="968" r="9"/><circle cx="545" cy="993" r="9"/><circle cx="605" cy="1000" r="9"/><circle cx="563" cy="1025" r="9"/><circle cx="620" cy="1030" r="9"/><circle cx="580" cy="1055" r="9"/><circle cx="680" cy="1120" r="9"/><circle cx="632" cy="1145" r="9"/><circle cx="697" cy="1150" r="9"/><circle cx="650" cy="1178" r="9"/><circle cx="225" cy="1032" r="9"/><circle cx="270" cy="1050" r="9"/><circle cx="660" cy="1090" r="9"/><circle cx="615" cy="1115" r="9"/></g>
<g class="gc"><circle cx="640" cy="1058" r="9"/><circle cx="598" cy="1085" r="9"/><circle cx="262" cy="935" r="9"/><circle cx="312" cy="952" r="9"/><circle cx="250" cy="967" r="9"/><circle cx="297" cy="983" r="9"/><circle cx="237" cy="997" r="9"/><circle cx="283" cy="1017" r="9"/><circle cx="212" cy="1065" r="9"/><circle cx="258" cy="1082" r="9"/><circle cx="195" cy="1148" r="9"/><circle cx="243" cy="1148" r="9"/><circle cx="195" cy="1183" r="9"/><circle cx="243" cy="1183" r="9"/><circle cx="195" cy="1218" r="9"/><circle cx="243" cy="1218" r="9"/><circle cx="195" cy="1255" r="9"/><circle cx="243" cy="1255" r="9"/><circle cx="490" cy="815" r="9"/><circle cx="540" cy="815" r="9"/></g>
<g class="mg"><circle cx="480" cy="712" r="10"/><circle cx="500" cy="680" r="10"/><circle cx="537" cy="680" r="10"/><circle cx="555" cy="712" r="10"/><circle cx="660" cy="1212" r="10"/><circle cx="692" cy="1225" r="10"/><circle cx="725" cy="1208" r="10"/><circle cx="727" cy="1172" r="10"/></g>
<g class="nt">
<text x="493" y="750">C</text><text x="540" y="750">G</text><text x="493" y="783">R</text><text x="540" y="783">Y</text>
<text x="490" y="820" fill="#ccc">G</text><text x="540" y="820" fill="#ccc">N</text>
<text x="367" y="870">G</text><text x="367" y="918">Y</text><text x="405" y="870">G</text><text x="405" y="918">C</text><text x="437" y="870">S</text><text x="437" y="918">S</text>
<text x="568" y="940">G</text><text x="527" y="965">Y</text><text x="588" y="973">S</text><text x="545" y="998">S</text><text x="605" y="1005">G</text><text x="563" y="1030">S</text><text x="620" y="1035">G</text><text x="580" y="1060">C</text>
<text x="680" y="1125">U</text><text x="632" y="1150">A</text><text x="697" y="1155">C</text><text x="650" y="1183">G</text>
<text x="225" y="1037">G</text><text x="270" y="1055">Y</text>
<text x="480" y="717">A</text><text x="500" y="685">A</text><text x="537" y="685">G</text><text x="555" y="717">U</text>
<text x="660" y="1217">U</text><text x="692" y="1230">G</text><text x="725" y="1213">A</text><text x="727" y="1177">A</text>
<text x="182" y="1090">K</text><text x="175" y="1123">M</text><text x="265" y="1123">W</text>
<text x="252" y="905">M</text><text x="255" y="870">W</text><text x="278" y="843">H</text><text x="310" y="831">Y</text><text x="345" y="840">W</text><text x="345" y="945">k</text>
<text x="458" y="835">M</text><text x="568" y="840">A</text><text x="585" y="873">A</text><text x="585" y="910">M</text><text x="462" y="947">R</text><text x="492" y="965">K</text>
<text x="583" y="1120">a</text>
<text x="88" y="1261">W</text><text x="122" y="1261">W</text><text x="158" y="1261">A</text><text x="280" y="1261">B</text><text x="315" y="1261">S</text><text x="350" y="1261">R</text><text x="385" y="1261">W</text><text x="420" y="1261">S</text><text x="457" y="1261">B</text><text x="492" y="1261">M</text><text x="527" y="1261">W</text><text x="565" y="1261">g</text><text x="600" y="1261">a</text><text x="635" y="1261">w</text><text x="670" y="1261">g</text><text x="707" y="1261">c</text>
</g>
<g font-size="18" fill="#222"><text x="122" y="1235">330</text><text x="565" y="1235">410</text><text x="418" y="843">350</text><text x="368" y="945">390</text><text x="680" y="1090">370</text></g>
</g>

<!-- legend -->
<g id="legend" class="lg">
<circle cx="47" cy="1343" r="6" fill="#d40000"/><text x="58" y="1348">- conservative pairs</text>
<circle cx="47" cy="1363" r="6" fill="#b5a800"/><text x="58" y="1368">- 2 types of pairs</text>
<circle cx="47" cy="1384" r="6" fill="#1fa01f"/><text x="58" y="1389">- 3 types of pairs</text>
<circle cx="257" cy="1343" r="6" fill="#14a0a0"/><text x="268" y="1348">- 4 types of pairs</text>
<circle cx="257" cy="1363" r="6" fill="#000090"/><text x="268" y="1368">- 5 types of pairs</text>
<circle cx="257" cy="1384" r="6" fill="#ff00ff"/><text x="268" y="1389">- conservative loop</text>
</g>

<!-- ===== Panel C ===== -->
<g id="C">
<g class="bb"><path d="M825,975H1160"/><circle cx="907" cy="865" r="45"/><circle cx="1098" cy="640" r="42"/><circle cx="918" cy="700" r="5" opacity="0"/><path d="M893,975V912M922,975V912M893,818V797M922,818V797"/></g>
<g class="br sw">
<line class="R" x1="893" y1="975" x2="922" y2="975"/><line class="O" x1="893" y1="953" x2="922" y2="953"/><line class="O" x1="893" y1="933" x2="922" y2="933"/><line class="O" x1="893" y1="912" x2="922" y2="912"/>
<line class="O" x1="893" y1="818" x2="922" y2="818"/><line class="O" x1="893" y1="797" x2="922" y2="797"/>
<line class="O" x1="900" y1="773" x2="926" y2="783"/><line class="O" x1="908" y1="752" x2="934" y2="762"/><line class="O" x1="916" y1="732" x2="942" y2="742"/><line class="G" x1="923" y1="712" x2="949" y2="722"/><line class="R" x1="931" y1="692" x2="957" y2="702"/><line class="R" x1="939" y1="672" x2="965" y2="682"/><line class="R" x1="947" y1="652" x2="973" y2="662"/><line class="O" x1="955" y1="632" x2="981" y2="642"/><line class="O" x1="963" y1="612" x2="989" y2="622"/>
<line class="R" x1="998" y1="612" x2="1000" y2="640"/><line class="R" x1="1016" y1="615" x2="1018" y2="643"/><line class="R" x1="1036" y1="618" x2="1038" y2="646"/><line class="R" x1="1056" y1="621" x2="1058" y2="649"/>
<line class="R" x1="1100" y1="602" x2="1128" y2="610"/><line class="R" x1="1105" y1="582" x2="1133" y2="590"/>
<line class="R" x1="1075" y1="688" x2="1105" y2="688"/><line class="R" x1="1073" y1="708" x2="1103" y2="708"/><line class="R" x1="1071" y1="728" x2="1101" y2="728"/><line class="R" x1="1069" y1="748" x2="1099" y2="748"/><line class="R" x1="1067" y1="768" x2="1097" y2="768"/><line class="PY" x1="1063" y1="785" x2="1093" y2="785"/><line class="O" x1="1060" y1="802" x2="1090" y2="802"/><line class="R" x1="1057" y1="820" x2="1087" y2="820"/><line class="R" x1="1054" y1="838" x2="1084" y2="838"/>
</g>
<g class="mg"><circle cx="1110" cy="565" r="5"/><circle cx="1122" cy="555" r="5"/><circle cx="1135" cy="565" r="5"/><circle cx="1098" cy="555" r="5"/><circle cx="1043" cy="850" r="5"/><circle cx="1055" cy="860" r="5"/><circle cx="1070" cy="858" r="5"/><circle cx="1080" cy="848" r="5"/></g>
<g class="ft"><text x="830" y="978">M</text><text x="848" y="978">U</text><text x="868" y="978">A</text><text x="950" y="978">g</text><text x="970" y="978">g</text><text x="990" y="978">a</text><text x="1010" y="978">g</text><text x="1030" y="978">g</text><text x="950" y="605">M</text><text x="958" y="590">S</text><text x="978" y="585">A</text><text x="1085" y="615">G</text><text x="1140" y="640">A</text><text x="1135" y="665">A</text><text x="1055" y="760">M</text><text x="1100" y="795">g</text><text x="885" y="860">C</text><text x="890" y="838">a</text><text x="950" y="868">S</text><text x="930" y="843">G</text></g>
<g font-size="9" fill="#222"><text x="965" y="962">410</text><text x="1030" y="603">350</text><text x="985" y="653">390</text><text x="835" y="862">330</text><text x="1100" y="786">370</text></g>
</g>

<!-- ===== Panel D ===== -->
<g id="D">
<g class="bb"><path d="M1232,975H1555M1283,975V953M1313,975V953M1283,790V705M1313,790V705"/><circle cx="1298" cy="850" r="48"/><circle cx="1290" cy="655" r="40"/><circle cx="1397" cy="650" r="45"/></g>
<g class="br sw">
<line class="R" x1="1283" y1="953" x2="1313" y2="953"/><line class="O" x1="1283" y1="915" x2="1313" y2="915"/>
<line class="O" x1="1283" y1="705" x2="1313" y2="705"/><line class="R" x1="1283" y1="727" x2="1313" y2="727"/><line class="O" x1="1283" y1="748" x2="1313" y2="748"/><line class="R" x1="1283" y1="770" x2="1313" y2="770"/><line class="R" x1="1283" y1="790" x2="1313" y2="790"/>
<line class="R" x1="1330" y1="640" x2="1330" y2="672"/><line class="R" x1="1350" y1="640" x2="1350" y2="672"/><line class="R" x1="1370" y1="640" x2="1370" y2="672"/>
<line class="R" x1="1397" y1="568" x2="1432" y2="568"/><line class="O" x1="1397" y1="590" x2="1432" y2="590"/><line class="R" x1="1397" y1="612" x2="1432" y2="612"/>
<line class="R" x1="1416" y1="702" x2="1444" y2="688"/><line class="R" x1="1425" y1="719" x2="1453" y2="705"/><line class="R" x1="1434" y1="736" x2="1462" y2="722"/><line class="G" x1="1443" y1="753" x2="1471" y2="739"/><line class="O" x1="1452" y1="770" x2="1480" y2="756"/><line class="O" x1="1461" y1="787" x2="1489" y2="773"/><line class="R" x1="1470" y1="804" x2="1498" y2="790"/><line class="R" x1="1479" y1="821" x2="1507" y2="807"/><line class="R" x1="1488" y1="838" x2="1516" y2="824"/>
</g>
<g class="mg"><circle cx="1400" cy="545" r="5"/><circle cx="1410" cy="532" r="5"/><circle cx="1423" cy="535" r="5"/><circle cx="1430" cy="548" r="5"/><circle cx="1505" cy="852" r="5"/><circle cx="1518" cy="860" r="5"/><circle cx="1532" cy="855" r="5"/><circle cx="1530" cy="838" r="5"/></g>
<g class="ft"><text x="1280" y="978">C</text><text x="1310" y="978">C</text><text x="1325" y="978">u</text><text x="1265" y="668">U</text><text x="1272" y="635">R</text><text x="1295" y="625">c</text><text x="1408" y="692">A</text><text x="1390" y="700">U</text><text x="1438" y="665">C</text><text x="1445" y="640">A</text><text x="1265" y="828">R</text><text x="1258" y="850">M</text><text x="1262" y="870">G</text><text x="1330" y="835">S</text><text x="1340" y="855">A</text><text x="1332" y="880">M</text><text x="1265" y="755">a</text><text x="1480" y="796">a</text></g>
<g font-size="9" fill="#222"><text x="1398" y="962">410</text><text x="1360" y="630">350</text><text x="1322" y="690">390</text><text x="1283" y="882">330</text><text x="1510" y="778">370</text></g>
</g>

<!-- ===== Panel E ===== -->
<g id="E">
<g class="bb"><path d="M825,1442H1160M890,1442V1402M920,1442V1402"/><circle cx="900" cy="1225" r="35"/><circle cx="1050" cy="1170" r="42"/></g>
<g class="br sw">
<line class="O" x1="890" y1="1260" x2="920" y2="1260"/><line class="O" x1="890" y1="1280" x2="920" y2="1280"/><line class="O" x1="890" y1="1300" x2="920" y2="1300"/><line class="R" x1="890" y1="1320" x2="920" y2="1320"/><line class="R" x1="890" y1="1340" x2="920" y2="1340"/><line class="G" x1="890" y1="1362" x2="920" y2="1362"/><line class="R" x1="890" y1="1382" x2="920" y2="1382"/><line class="R" x1="890" y1="1402" x2="920" y2="1402"/>
<line class="O" x1="930" y1="1200" x2="945" y2="1225"/><line class="R" x1="950" y1="1192" x2="965" y2="1217"/><line class="R" x1="964" y1="1184" x2="979" y2="1209"/><line class="R" x1="978" y1="1176" x2="993" y2="1201"/>
<line class="R" x1="995" y1="1105" x2="1025" y2="1105"/><line class="R" x1="995" y1="1125" x2="1025" y2="1125"/><line class="R" x1="995" y1="1145" x2="1025" y2="1145"/>
<line class="O" x1="1052" y1="1215" x2="1077" y2="1200"/><line class="R" x1="1059" y1="1232" x2="1084" y2="1217"/><line class="R" x1="1066" y1="1249" x2="1091" y2="1234"/><line class="R" x1="1073" y1="1266" x2="1098" y2="1251"/><line class="R" x1="1080" y1="1283" x2="1105" y2="1268"/><line class="O" x1="1087" y1="1300" x2="1112" y2="1285"/><line class="R" x1="1094" y1="1317" x2="1119" y2="1302"/><line class="R" x1="1101" y1="1334" x2="1126" y2="1319"/>
</g>
<g class="mg"><circle cx="985" cy="1097" r="5"/><circle cx="992" cy="1083" r="5"/><circle cx="1007" cy="1078" r="5"/><circle cx="1020" cy="1087" r="5"/><circle cx="1113" cy="1350" r="5"/><circle cx="1125" cy="1362" r="5"/><circle cx="1140" cy="1358" r="5"/><circle cx="1138" cy="1342" r="5"/></g>
<g class="ft"><text x="830" y="1445">a</text><text x="848" y="1445">A</text><text x="868" y="1445">M</text><text x="942" y="1445">S</text><text x="962" y="1445">W</text><text x="982" y="1445">K</text><text x="1002" y="1445">G</text><text x="1022" y="1445">Y</text><text x="1042" y="1445">A</text><text x="1062" y="1445">a</text><text x="1082" y="1445">g</text><text x="1102" y="1445">a</text><text x="1122" y="1445">a</text><text x="1142" y="1445">c</text><text x="878" y="1203">W</text><text x="895" y="1192">U</text><text x="912" y="1193">M</text><text x="870" y="1228">R</text><text x="875" y="1248">W</text><text x="935" y="1248">W</text><text x="935" y="1355">W</text><text x="1065" y="1138">A</text><text x="1085" y="1160">A</text><text x="1090" y="1185">A</text><text x="1040" y="1213">G</text><text x="1020" y="1180">G</text><text x="1090" y="1296">R</text></g>
<g font-size="9" fill="#222"><text x="832" y="1432">330</text><text x="1104" y="1432">410</text><text x="955" y="1172">350</text><text x="1118" y="1292">370</text><text x="1062" y="1314">390</text></g>
</g>

<!-- ===== Panel F ===== -->
<g id="F">
<g class="bb"><path d="M1330,1442H1505M1350,1440V1290M1380,1440V1290"/><circle cx="1365" cy="1225" r="65"/></g>
<g class="br sw">
<line class="O" x1="1350" y1="1290" x2="1380" y2="1290"/><line class="O" x1="1350" y1="1308" x2="1380" y2="1308"/><line class="O" x1="1350" y1="1325" x2="1380" y2="1325"/><line class="O" x1="1350" y1="1342" x2="1380" y2="1342"/><line class="R" x1="1350" y1="1375" x2="1380" y2="1375"/><line class="R" x1="1350" y1="1392" x2="1380" y2="1392"/><line class="R" x1="1350" y1="1408" x2="1380" y2="1408"/><line class="O" x1="1350" y1="1424" x2="1380" y2="1424"/><line class="O" x1="1350" y1="1440" x2="1380" y2="1440"/>
<line class="R" x1="1334" y1="1172" x2="1362" y2="1176"/><line class="R" x1="1331" y1="1156" x2="1359" y2="1160"/><line class="O" x1="1328" y1="1140" x2="1356" y2="1144"/><line class="R" x1="1325" y1="1124" x2="1353" y2="1128"/><line class="R" x1="1322" y1="1108" x2="1350" y2="1112"/><line class="O" x1="1319" y1="1092" x2="1347" y2="1096"/><line class="R" x1="1316" y1="1076" x2="1344" y2="1080"/><line class="O" x1="1313" y1="1060" x2="1341" y2="1064"/><line class="R" x1="1310" y1="1044" x2="1338" y2="1048"/>
<line class="R" x1="1270" y1="1240" x2="1276" y2="1265"/><line class="R" x1="1285" y1="1236" x2="1291" y2="1261"/><line class="O" x1="1300" y1="1232" x2="1306" y2="1257"/>
</g>
<g class="mg"><circle cx="1302" cy="1030" r="5"/><circle cx="1313" cy="1020" r="5"/><circle cx="1327" cy="1023" r="5"/><circle cx="1242" cy="1250" r="5"/><circle cx="1238" cy="1265" r="5"/><circle cx="1248" cy="1278" r="5"/><circle cx="1262" cy="1274" r="5"/></g>
<g class="ft"><text x="1370" y="1445">Y</text><text x="1390" y="1445">S</text><text x="1410" y="1445">G</text><text x="1430" y="1445">R</text><text x="1450" y="1445">A</text><text x="1470" y="1445">G</text><text x="1490" y="1445">A</text><text x="1380" y="1175">S</text><text x="1398" y="1180">a</text><text x="1412" y="1195">G</text><text x="1420" y="1215">U</text><text x="1418" y="1262">A</text><text x="1408" y="1278">A</text><text x="1395" y="1290">R</text><text x="1345" y="1170">a</text></g>
<g font-size="9" fill="#222"><text x="1333" y="1442">340</text><text x="1480" y="1432">410</text><text x="1325" y="1272">350</text><text x="1422" y="1238">390</text></g>
</g>
</g>
</svg>
